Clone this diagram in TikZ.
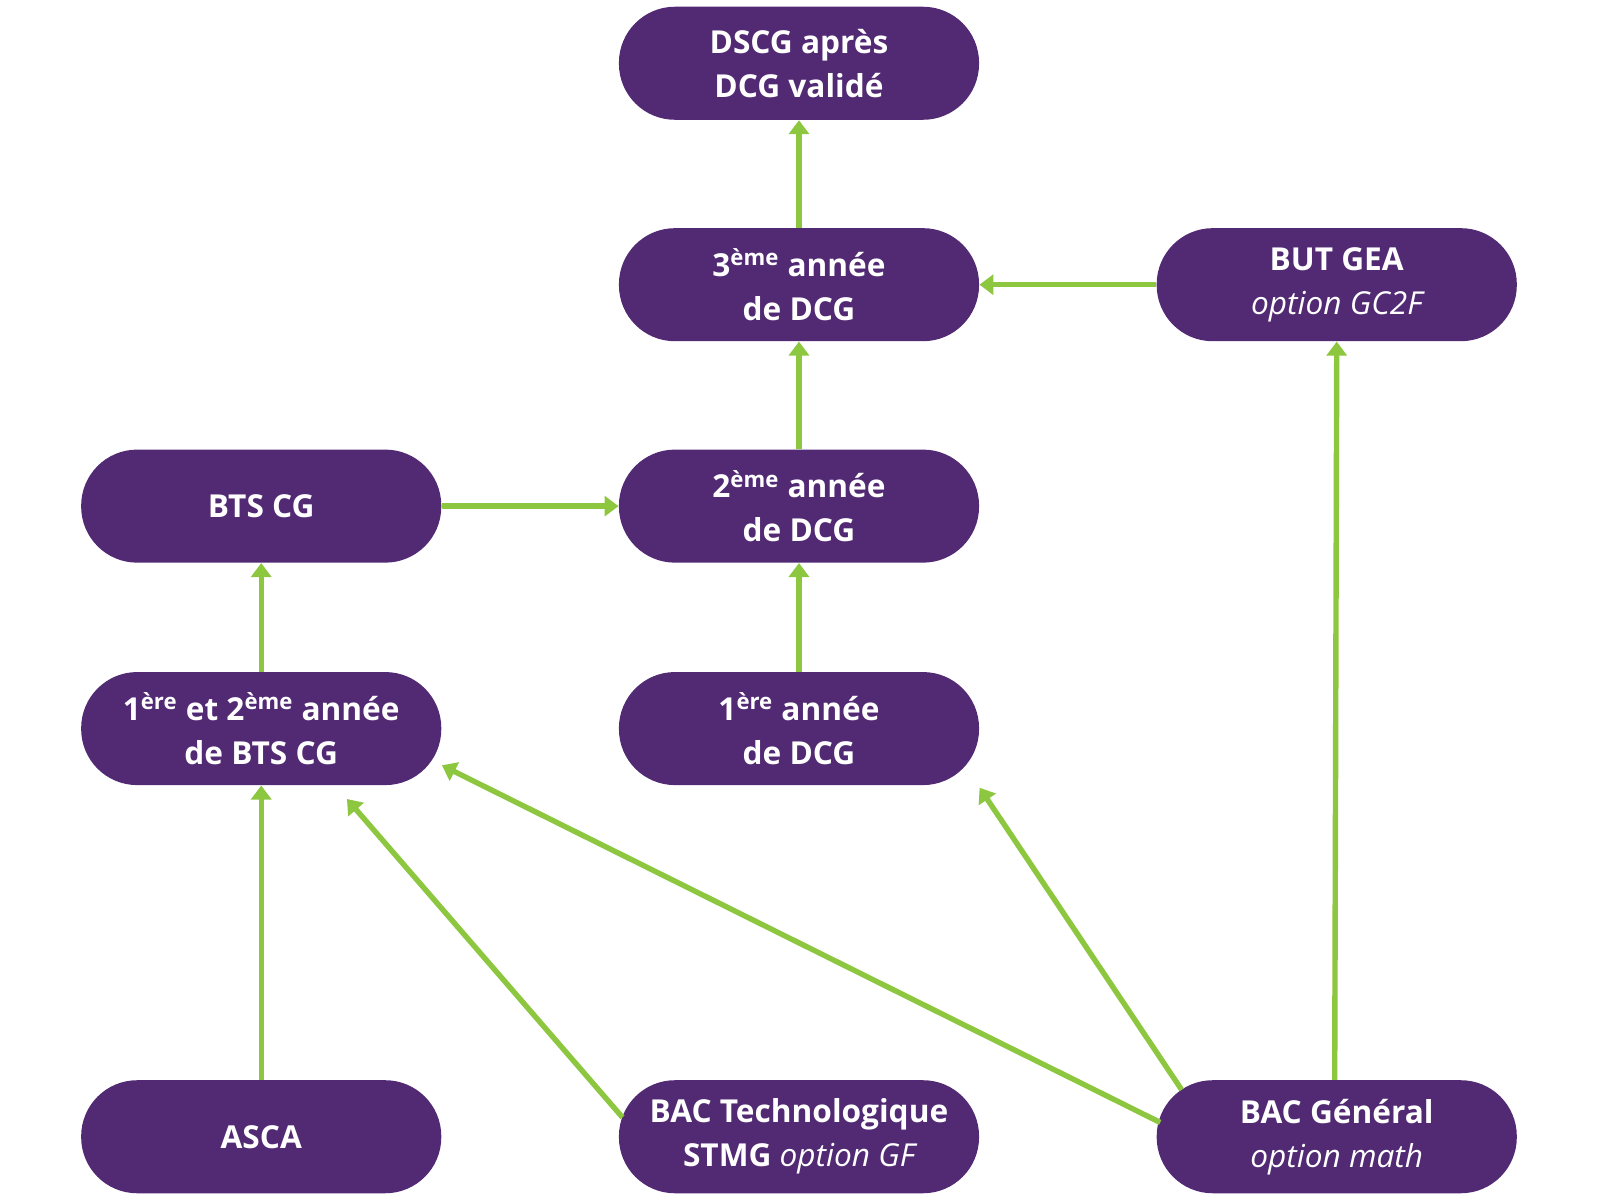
\documentclass[tikz,border=0pt]{standalone}
\usepackage{fontspec}
\setmainfont{Open Sans}
\usetikzlibrary{arrows.meta}
\definecolor{purp}{HTML}{522A74}
\definecolor{grn}{HTML}{8DC63F}
\begin{document}
\begin{tikzpicture}[x=0.51pt,y=-0.51pt,
  box/.style={fill=purp,text=white,rounded corners=28pt,minimum width=180pt,minimum height=56.5pt,inner sep=0pt,align=center,font=\fontsize{15.8}{22}\selectfont\bfseries},
  arr/.style={draw=grn,line width=2.7pt,-{Triangle[width=10pt,length=7pt]}}]
\useasboundingbox (0,0) rectangle (1568,1176);
\node[box] (dscg) at (783,62) {DSCG après\\DCG validé};
\node[box] (d3) at (783,279) {3\textsuperscript{ème} année\\de DCG};
\node[box] (but) at (1310,279) {BUT GEA\\\normalfont\itshape option GC2F};
\node[box] (bts) at (256,496) {BTS CG};
\node[box] (d2) at (783,496) {2\textsuperscript{ème} année\\de DCG};
\node[box] (b12) at (256,714) {1\textsuperscript{ère} et 2\textsuperscript{ème} année\\de BTS CG};
\node[box] (d1) at (783,714) {1\textsuperscript{ère} année\\de DCG};
\node[box] (asca) at (256,1114) {ASCA};
\node[box] (tech) at (783,1114) {BAC Technologique\\STMG \normalfont\itshape option GF};
\node[box] (gen) at (1310,1114) {BAC Général\\\normalfont\itshape option math};
\coordinate (t1) at (340,783);
\coordinate (t2) at (433,750);
\coordinate (t3) at (960,772);
\coordinate (s1) at (610,1095);
\coordinate (s2) at (1137,1100);
\coordinate (s3) at (1158,1068);
\draw[arr] (asca) -- (b12);
\draw[arr] (s1) -- (t1);
\draw[arr] (s2) -- (t2);
\draw[arr] (s3) -- (t3);
\draw[arr] (gen.north) ++(-2,0) -- (but.south);
\draw[arr] (d1) -- (d2);
\draw[arr] (d2) -- (d3);
\draw[arr] (d3) -- (dscg);
\draw[arr] (but) -- (d3);
\draw[arr] (bts) -- (d2);
\draw[arr] (b12) -- (bts);
\end{tikzpicture}
\end{document}
